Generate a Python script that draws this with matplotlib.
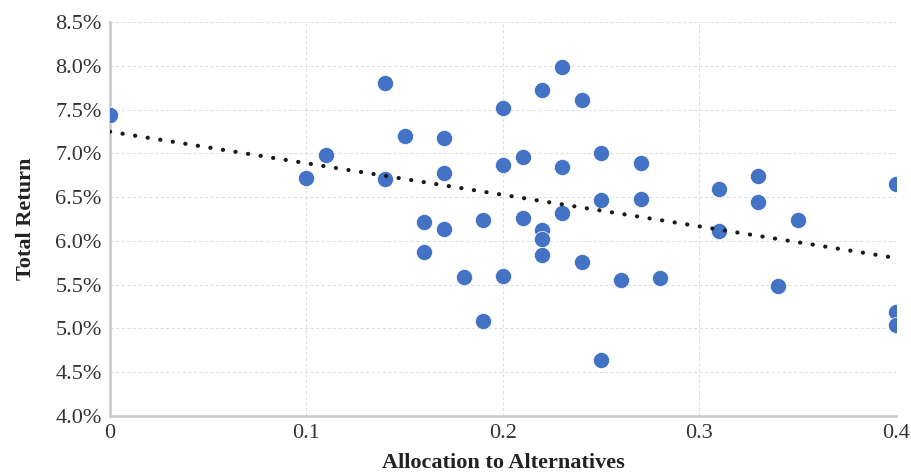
import numpy as np
import matplotlib.pyplot as plt
from matplotlib.ticker import FuncFormatter

# allocation to alternatives (x) and total return in % (y)
alloc = [0.00, 0.10, 0.11, 0.14, 0.14, 0.15, 0.16, 0.16, 0.17, 0.17, 0.17,
         0.18, 0.19, 0.19, 0.20, 0.20, 0.20, 0.21, 0.21, 0.22, 0.22, 0.22,
         0.22, 0.23, 0.23, 0.23, 0.24, 0.24, 0.25, 0.25, 0.25, 0.26, 0.27,
         0.27, 0.28, 0.31, 0.31, 0.33, 0.33, 0.34, 0.35, 0.40, 0.40, 0.40]
total_return = [7.44, 6.72, 6.98, 7.80, 6.71, 7.20, 6.22, 5.87, 7.17, 6.78, 6.14,
                5.59, 6.24, 5.08, 7.52, 6.87, 5.60, 6.96, 6.26, 7.72, 6.12, 6.02,
                5.84, 7.99, 6.84, 6.32, 7.61, 5.76, 7.00, 6.47, 4.64, 5.55, 6.89,
                6.48, 5.58, 6.59, 6.11, 6.74, 6.44, 5.48, 6.24, 6.65, 5.19, 5.04]

x_ticks = [0, 0.1, 0.2, 0.3, 0.4]
x_tick_labels = ["0", "0.1", "0.2", "0.3", "0.4"]
y_ticks = [4.0, 4.5, 5.0, 5.5, 6.0, 6.5, 7.0, 7.5, 8.0, 8.5]

plt.rcParams['font.family'] = ['Liberation Serif', 'DejaVu Serif']

fig = plt.figure(figsize=(9.11, 4.73), dpi=100)
ax = fig.add_axes([0.1207, 0.1205, 0.8628, 0.833])

ax.scatter(alloc, total_return, s=135, color='#4472C4', edgecolor='white',
           linewidth=0.5, zorder=3)

# linear trendline
slope, intercept = np.polyfit(alloc, total_return, 1)
tx = np.array([0, 0.4])
ax.plot(tx, intercept + slope * tx, color='#1a1a1a', lw=3.0,
        linestyle=(0, (0.05, 3.0)), dash_capstyle='round', zorder=4)

ax.set_xlim(0, 0.4)
ax.set_ylim(4.0, 8.5)
ax.set_xticks(x_ticks)
ax.set_xticklabels(x_tick_labels)
ax.set_yticks(y_ticks)
ax.yaxis.set_major_formatter(FuncFormatter(lambda v, p: f"{v:.1f}%"))
ax.tick_params(length=0, labelsize=16, colors='#333333')
ax.tick_params(axis='x', pad=6)
ax.tick_params(axis='y', pad=6)

ax.grid(True, color='#e0e0e0', linestyle=(0, (3, 2)), linewidth=0.8)
ax.set_axisbelow(True)
for side in ['top', 'right']:
    ax.spines[side].set_visible(False)
for side in ['left', 'bottom']:
    ax.spines[side].set_color('#c8c8c8')
    ax.spines[side].set_linewidth(1.8)

ax.set_xlabel("Allocation to Alternatives", fontsize=16, fontweight='bold',
              color='#222222', labelpad=7)
ax.set_ylabel("Total Return", fontsize=16, fontweight='bold',
              color='#222222', labelpad=14)

fig.savefig("out.png", dpi=100)
